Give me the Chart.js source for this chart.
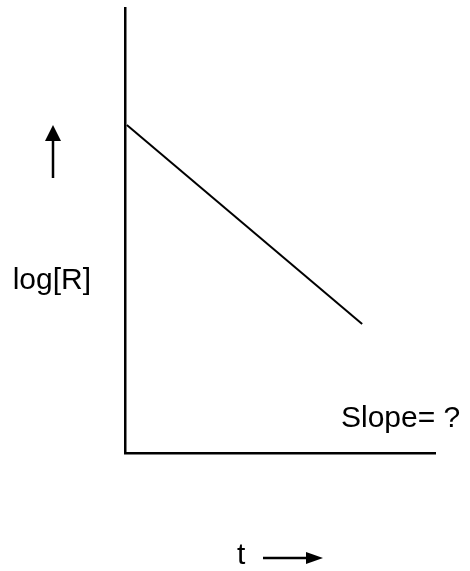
<!DOCTYPE html>
<html lang="en">
<head>
    <meta charset="UTF-8">
    <title>log[R] vs t</title>
    <script src="https://cdn.jsdelivr.net/npm/chart.js"></script>
    <style>
        html, body { margin: 0; padding: 0; background: #fff; }
        #wrap { width: 470px; height: 571px; }
    </style>
</head>
<body>
    <div id="wrap"><canvas id="rateChart"></canvas></div>

    <script>
        // data (arbitrary units, schematic plot)
        const tValues = [0.06, 7.65];
        const logRValues = [7.37, 2.9];
        const xRange = [0, 10];
        const yRange = [0, 10];

        const points = tValues.map((t, i) => ({ x: t, y: logRValues[i] }));

        // labels and arrows outside the plot area
        const annotations = {
            id: 'annotations',
            afterDraw(chart) {
                const ctx = chart.ctx;
                ctx.save();
                ctx.fillStyle = '#000';
                ctx.strokeStyle = '#000';
                ctx.font = '30px "Liberation Sans", Arial, sans-serif';
                ctx.textBaseline = 'alphabetic';

                ctx.textAlign = 'right';
                ctx.fillText('log[R]', 91, 289);
                ctx.textAlign = 'left';
                ctx.fillText('Slope= ?', 341, 427);
                ctx.fillText('t', 237, 564);

                // up arrow
                ctx.lineWidth = 2.5;
                ctx.beginPath();
                ctx.moveTo(53, 178);
                ctx.lineTo(53, 138);
                ctx.stroke();
                ctx.beginPath();
                ctx.moveTo(53, 125);
                ctx.lineTo(45, 141);
                ctx.lineTo(61, 141);
                ctx.closePath();
                ctx.fill();

                // right arrow
                ctx.beginPath();
                ctx.moveTo(263, 558);
                ctx.lineTo(308, 558);
                ctx.stroke();
                ctx.beginPath();
                ctx.moveTo(323, 558);
                ctx.lineTo(306, 552);
                ctx.lineTo(306, 564);
                ctx.closePath();
                ctx.fill();
                ctx.restore();
            }
        };

        const axisOpts = (min, max) => ({
            type: 'linear',
            min: min,
            max: max,
            grid: { display: false, drawTicks: false },
            ticks: { display: false },
            border: { display: true, color: '#000', width: 2.5 }
        });

        new Chart(document.getElementById('rateChart'), {
            type: 'scatter',
            data: {
                datasets: [{
                    data: points,
                    showLine: true,
                    borderColor: '#000',
                    borderWidth: 2,
                    pointRadius: 0,
                    fill: false
                }]
            },
            options: {
                responsive: true,
                maintainAspectRatio: false,
                animation: false,
                layout: { padding: { left: 125, top: 8, right: 35, bottom: 118 } },
                plugins: {
                    legend: { display: false },
                    tooltip: { enabled: false }
                },
                scales: {
                    x: axisOpts(xRange[0], xRange[1]),
                    y: axisOpts(yRange[0], yRange[1])
                }
            },
            plugins: [annotations]
        });
    </script>
</body>
</html>
